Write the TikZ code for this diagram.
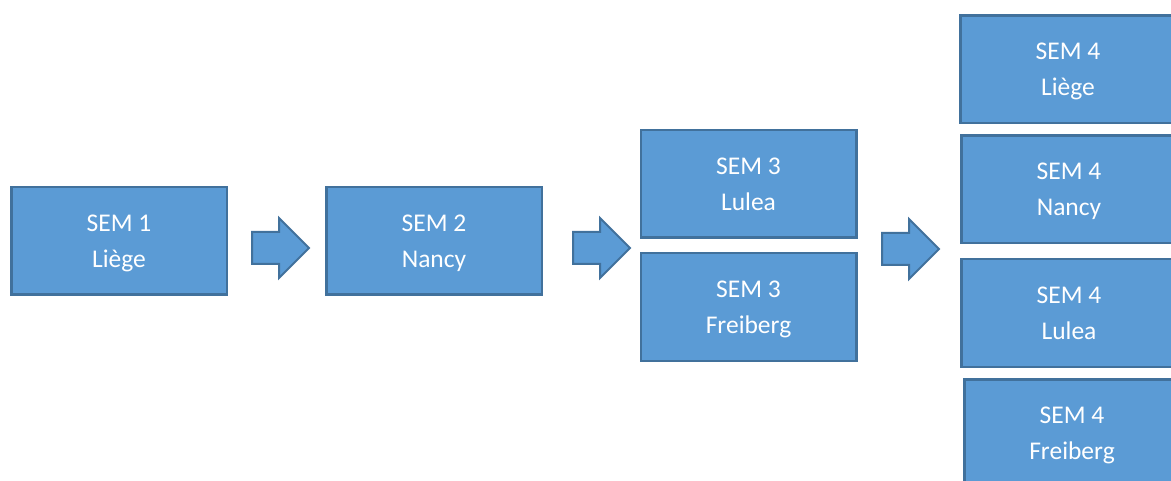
\documentclass[tikz,border=0pt]{standalone}
\usepackage{fontspec}
\setmainfont{Carlito}
\definecolor{fillb}{HTML}{5B9BD5}
\definecolor{edgeb}{HTML}{41719C}
\tikzset{
  sembox/.style={draw=edgeb, fill=fillb, line width=2.5pt, text=white,
    font=\fontsize{25.5}{36}\selectfont, align=center, inner sep=0pt,
    text depth=0pt,
    minimum width=215.5pt, minimum height=107.5pt},
  barrowsty/.style={draw=edgeb, fill=fillb, line width=2pt, line join=miter},
  barrow/.pic={\path[barrowsty] (0,-16)--(27,-16)--(27,-30)--(57,0)--(27,30)--(27,16)--(0,16)--cycle;}
}
\begin{document}
\begin{tikzpicture}[x=1pt,y=-1pt]
\useasboundingbox (0,0) rectangle (1171,481);
\node[sembox] (s1) at (119,241) {SEM 1\\Liège};
\node[sembox] (s2) at (434,241) {SEM 2\\Nancy};
\node[sembox] (s3a) at (748.5,184) {SEM 3\\Lulea};
\node[sembox] (s3b) at (748.5,307) {SEM 3\\Freiberg};
\node[sembox] (s4a) at (1068,69.5) {SEM 4\\Liège};
\node[sembox] (s4b) at (1069,189.5) {SEM 4\\Nancy};
\node[sembox] (s4c) at (1069,313) {SEM 4\\Lulea};
\node[sembox] (s4d) at (1072,433) {SEM 4\\Freiberg};
\pic at (252,248) {barrow};
\pic at (573,248) {barrow};
\pic at (882,249) {barrow};
\end{tikzpicture}
\end{document}
